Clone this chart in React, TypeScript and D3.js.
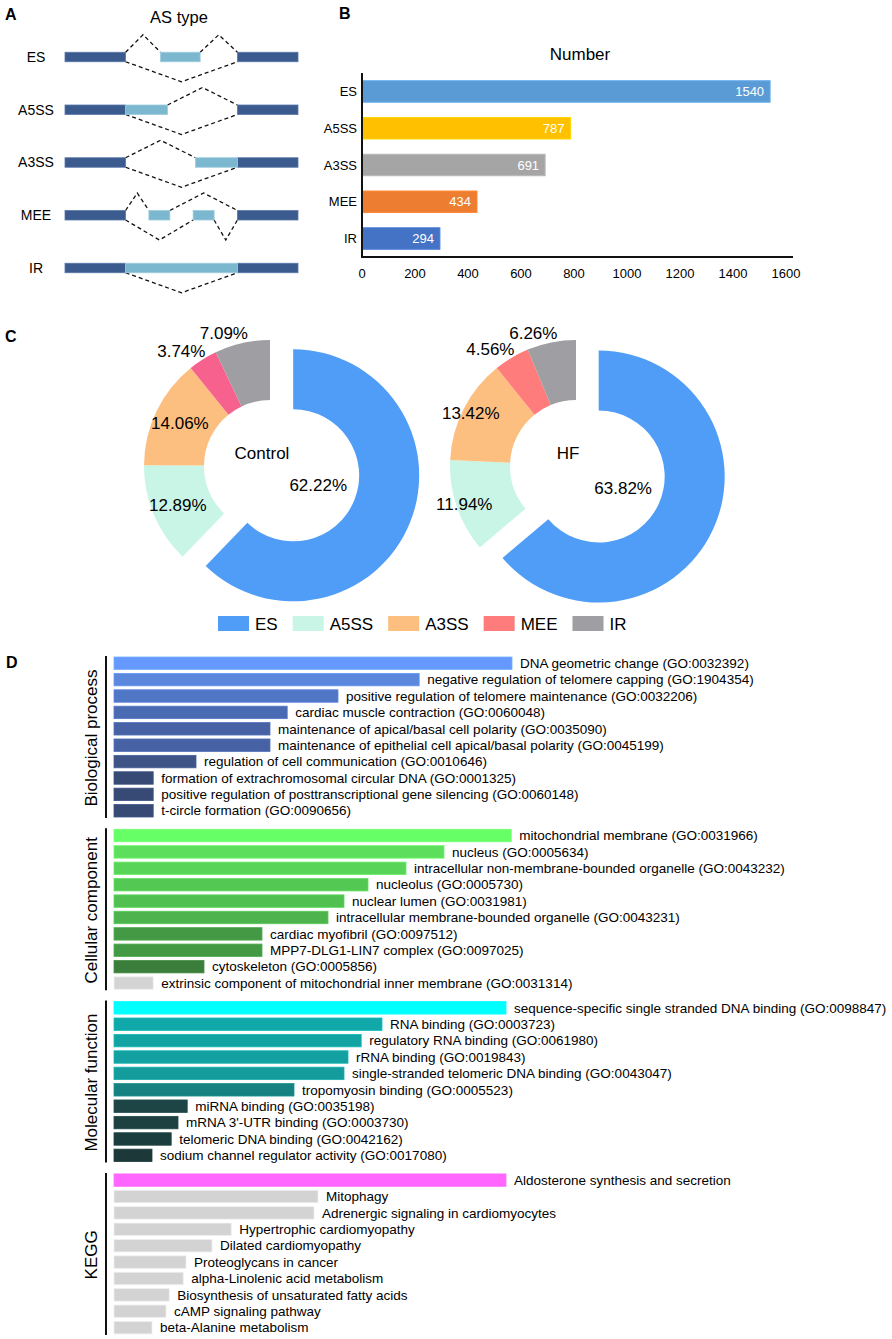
import React, { useEffect, useRef } from 'react';
import * as d3 from 'd3';

const FONT = '"Liberation Sans", Arial, Helvetica, sans-serif';

// A: splicing schematic, positions on a 0-100 gene axis
const asTypes = ['ES', 'A5SS', 'A3SS', 'MEE', 'IR'];
const constExons = [[0, 26], [74, 100]];
const altExons = [[[41, 58]], [[26, 44]], [[56, 74]], [[36, 45], [55, 64]], [[26, 74]]];
const upperJunctions = [[[26, 41], [58, 74]], [[44, 74]], [[26, 56]], [[26, 36], [45, 74]], []];
const lowerJunctions = [[[26, 74]], [[26, 74]], [[26, 74]], [[26, 55], [64, 74]], [[26, 74]]];

// B: event counts
const asCounts = [1540, 787, 691, 434, 294];
const asBarColors = ['#5b9bd5', '#ffc000', '#a5a5a5', '#ed7d31', '#4472c4'];
const countTicks = [0, 200, 400, 600, 800, 1000, 1200, 1400, 1600];

// C: proportions (%)
const groups = ['Control', 'HF'];
const controlPct = [62.22, 12.89, 14.06, 3.74, 7.09];
const hfPct = [63.82, 11.94, 13.42, 4.56, 6.26];
const donutColors = ['#4f9df6', '#c9f5e6', '#fdbf80', '#fe7c7c', '#9e9ea3'];
const controlMeeColor = '#f6618d';

// D: enrichment (relative score, 0-100)
const sectionNames = ['Biological process', 'Cellular component', 'Molecular function', 'KEGG'];
const bpTerms = [
  'DNA geometric change (GO:0032392)',
  'negative regulation of telomere capping (GO:1904354)',
  'positive regulation of telomere maintenance (GO:0032206)',
  'cardiac muscle contraction (GO:0060048)',
  'maintenance of apical/basal cell polarity (GO:0035090)',
  'maintenance of epithelial cell apical/basal polarity (GO:0045199)',
  'regulation of cell communication (GO:0010646)',
  'formation of extrachromosomal circular DNA (GO:0001325)',
  'positive regulation of posttranscriptional gene silencing (GO:0060148)',
  't-circle formation (GO:0090656)',
];
const bpScores = [99.5, 76.3, 56, 43.3, 39, 39, 20.5, 9.8, 9.8, 9.8];
const bpColors = ['#6699ff', '#5b87dd', '#5076c6', '#4a6ab2', '#4762a4', '#4762a4', '#3e5487', '#364a75', '#364a75', '#364a75'];

const ccTerms = [
  'mitochondrial membrane (GO:0031966)',
  'nucleus (GO:0005634)',
  'intracellular non-membrane-bounded organelle (GO:0043232)',
  'nucleolus (GO:0005730)',
  'nuclear lumen (GO:0031981)',
  'intracellular membrane-bounded organelle (GO:0043231)',
  'cardiac myofibril (GO:0097512)',
  'MPP7-DLG1-LIN7 complex (GO:0097025)',
  'cytoskeleton (GO:0005856)',
  'extrinsic component of mitochondrial inner membrane (GO:0031314)',
];
const ccScores = [99.3, 82.5, 73, 63.5, 57.5, 53.5, 37, 37, 22.5, 9.8];
const ccColors = ['#66ff66', '#5ddf5d', '#58d458', '#53c853', '#50c050', '#4db44d', '#449a44', '#449a44', '#3b7d3b', '#d4d4d4'];

const mfTerms = [
  'sequence-specific single stranded DNA binding (GO:0098847)',
  'RNA binding (GO:0003723)',
  'regulatory RNA binding (GO:0061980)',
  'rRNA binding (GO:0019843)',
  'single-stranded telomeric DNA binding (GO:0043047)',
  'tropomyosin binding (GO:0005523)',
  'miRNA binding (GO:0035198)',
  "mRNA 3'-UTR binding (GO:0003730)",
  'telomeric DNA binding (GO:0042162)',
  'sodium channel regulator activity (GO:0017080)',
];
const mfScores = [98, 67, 61.8, 58.5, 57.5, 45, 18.3, 16, 14.3, 9.5];
const mfColors = ['#00ffff', '#10a8a8', '#12a3a3', '#13a0a0', '#149b9b', '#178080', '#1d4545', '#1d4141', '#1c3d3d', '#1c3838'];

const keggTerms = [
  'Aldosterone synthesis and secretion',
  'Mitophagy',
  'Adrenergic signaling in cardiomyocytes',
  'Hypertrophic cardiomyopathy',
  'Dilated cardiomyopathy',
  'Proteoglycans in cancer',
  'alpha-Linolenic acid metabolism',
  'Biosynthesis of unsaturated fatty acids',
  'cAMP signaling pathway',
  'beta-Alanine metabolism',
];
const keggScores = [98, 51, 50, 29.3, 24.5, 18, 17.3, 13.8, 13, 9.5];
const keggColors = ['#ff66ff', '#d3d3d3', '#d3d3d3', '#d3d3d3', '#d3d3d3', '#d3d3d3', '#d3d3d3', '#d3d3d3', '#d3d3d3', '#d3d3d3'];

const App: React.FC = () => {
  const svgRef = useRef<SVGSVGElement>(null);

  useEffect(() => {
    if (!svgRef.current) return;
    const svg = d3.select(svgRef.current);
    svg.selectAll('*').remove();
    svg.attr('font-family', FONT);

    const panelLabel = (t: string, x: number, y: number) =>
      svg.append('text').attr('x', x).attr('y', y).attr('font-size', 16).attr('font-weight', 'bold').text(t);

    // ---------- A ----------
    panelLabel('A', 5, 20);
    svg.append('text').attr('x', 179).attr('y', 23).attr('text-anchor', 'middle')
      .attr('font-size', 16.5).text('AS type');

    const gx = d3.scaleLinear().domain([0, 100]).range([65, 298]);
    const ry = d3.scalePoint<string>().domain(asTypes).range([57, 268]);
    const eh = 9.5;
    const gA = svg.append('g');
    asTypes.forEach((t, i) => {
      const cy = ry(t)!;
      gA.append('text').attr('x', 36).attr('y', cy).attr('dy', '0.35em')
        .attr('text-anchor', 'middle').attr('font-size', 14).text(t);
      const drawJ = (pairs: number[][], dir: number, h: number) => {
        pairs.forEach(([a, b]) => {
          const y = cy + dir * eh / 2;
          gA.append('path')
            .attr('d', `M${gx(a)},${y}L${(gx(a) + gx(b)) / 2},${y + dir * h}L${gx(b)},${y}`)
            .attr('fill', 'none').attr('stroke', '#111').attr('stroke-width', 1.3)
            .attr('stroke-dasharray', '4,3');
        });
      };
      drawJ(upperJunctions[i], -1, 17.5);
      drawJ(lowerJunctions[i], 1, 20);
      constExons.forEach(([a, b]) => {
        gA.append('rect').attr('x', gx(a)).attr('y', cy - eh / 2).attr('width', gx(b) - gx(a))
          .attr('height', eh).attr('fill', '#3b5a8d').attr('stroke', '#5a78aa').attr('stroke-width', 0.8);
      });
      altExons[i].forEach(([a, b]) => {
        gA.append('rect').attr('x', gx(a)).attr('y', cy - eh / 2).attr('width', gx(b) - gx(a))
          .attr('height', eh).attr('fill', '#7bb8d0').attr('stroke', '#9ccbdc').attr('stroke-width', 0.8);
      });
    });

    // ---------- B ----------
    panelLabel('B', 339, 19);
    const bx = d3.scaleLinear().domain([0, 1600]).range([362, 786]);
    const by = d3.scaleBand<string>().domain(asTypes).range([73, 257]).paddingInner(0.415).paddingOuter(0.21);
    svg.append('text').attr('x', 580).attr('y', 60).attr('text-anchor', 'middle').attr('font-size', 17).text('Number');
    const gB = svg.append('g');
    asTypes.forEach((t, i) => {
      const y = by(t)!;
      gB.append('rect').attr('x', bx(0)).attr('y', y).attr('width', bx(asCounts[i]) - bx(0))
        .attr('height', by.bandwidth()).attr('fill', asBarColors[i])
        .attr('stroke', d3.color(asBarColors[i])!.brighter(0.3).toString()).attr('stroke-width', 1);
      gB.append('text').attr('x', bx(asCounts[i]) - 6).attr('y', y + by.bandwidth() / 2).attr('dy', '0.35em')
        .attr('text-anchor', 'end').attr('fill', 'white').attr('font-size', 13).text(asCounts[i]);
      gB.append('text').attr('x', 357).attr('y', y + by.bandwidth() / 2).attr('dy', '0.35em')
        .attr('text-anchor', 'end').attr('font-size', 13).text(t);
    });
    gB.append('line').attr('x1', 362).attr('x2', 362).attr('y1', 73).attr('y2', 258).attr('stroke', '#111').attr('stroke-width', 2);
    gB.append('line').attr('x1', 361).attr('x2', 793).attr('y1', 257).attr('y2', 257).attr('stroke', '#111').attr('stroke-width', 2);
    countTicks.forEach((v) => {
      gB.append('text').attr('x', bx(v)).attr('y', 278).attr('text-anchor', 'middle').attr('font-size', 13).text(v);
    });

    // ---------- C ----------
    panelLabel('C', 5, 342);
    const R = 126, r0 = 66, explode = 25;
    const centers = [[270, 466], [576, 466]];
    const insideR = [100, 118];
    const pie = d3.pie<number>().sort(null).value((d) => d);
    const arc = d3.arc<d3.PieArcDatum<number>>().innerRadius(r0).outerRadius(R);
    [controlPct, hfPct].forEach((pct, gi) => {
      const [cx, cy] = centers[gi];
      const g = svg.append('g').attr('transform', `translate(${cx},${cy})`);
      const arcs = pie(pct);
      arcs.forEach((a, i) => {
        const mid = (a.startAngle + a.endAngle) / 2;
        const dx = Math.sin(mid), dy = -Math.cos(mid);
        const off = i === 0 ? explode : 0;
        const col = gi === 0 && i === 3 ? controlMeeColor : donutColors[i];
        g.append('path').attr('d', arc(a)!).attr('fill', col)
          .attr('transform', `translate(${dx * off},${dy * off})`);
        let lx: number, ly: number, anchor = 'middle';
        if (i === 0) {
          lx = dx * 52; ly = dy * 52;
        } else if (pct[i] > 8) {
          lx = dx * insideR[gi]; ly = dy * insideR[gi];
        } else {
          lx = dx * (R + 10) + 8; ly = dy * (R + 10); anchor = 'end';
        }
        g.append('text').attr('x', lx).attr('y', ly).attr('dy', '0.35em').attr('text-anchor', anchor)
          .attr('font-size', 17).text(`${pct[i].toFixed(2)}%`);
      });
      g.append('text').attr('x', -8).attr('y', -13).attr('dy', '0.35em').attr('text-anchor', 'middle')
        .attr('font-size', 17).text(groups[gi]);
    });
    // legend
    const leg = svg.append('g');
    let lx = 218;
    asTypes.forEach((t, i) => {
      leg.append('rect').attr('x', lx).attr('y', 616).attr('width', 31).attr('height', 15)
        .attr('fill', donutColors[i]);
      const txt = leg.append('text').attr('x', lx + 37).attr('y', 624).attr('dy', '0.35em')
        .attr('font-size', 17).text(t);
      const w = (txt.node() as SVGTextElement).getComputedTextLength();
      lx += 37 + w + 15;
    });

    // ---------- D ----------
    panelLabel('D', 6, 668);
    const dx = d3.scaleLinear().domain([0, 100]).range([114, 514]);
    const sections = [
      { terms: bpTerms, scores: bpScores, colors: bpColors },
      { terms: ccTerms, scores: ccScores, colors: ccColors },
      { terms: mfTerms, scores: mfScores, colors: mfColors },
      { terms: keggTerms, scores: keggScores, colors: keggColors },
    ];
    sections.forEach((s, si) => {
      const top = 657 + si * 172.3;
      const y = d3.scaleBand<string>().domain(s.terms).range([top, top + 160]).paddingInner(0.24);
      const g = svg.append('g');
      s.terms.forEach((t, i) => {
        const yy = y(t)!;
        g.append('rect').attr('x', dx(0)).attr('y', yy).attr('width', dx(s.scores[i]) - dx(0))
          .attr('height', y.bandwidth()).attr('fill', s.colors[i])
          .attr('stroke', d3.color(s.colors[i])!.brighter(0.35).toString()).attr('stroke-width', 0.8);
        g.append('text').attr('x', dx(s.scores[i]) + 8).attr('y', yy + y.bandwidth() / 2).attr('dy', '0.35em')
          .attr('font-size', 13.5).text(t);
      });
      g.append('line').attr('x1', 106).attr('x2', 106).attr('y1', top - 1).attr('y2', top + 161)
        .attr('stroke', '#111').attr('stroke-width', 2);
      g.append('text').attr('transform', `translate(97,${top + 81}) rotate(-90)`)
        .attr('text-anchor', 'middle').attr('font-size', 17).text(sectionNames[si]);
    });
  }, []);

  return (
    <svg ref={svgRef} width={892} height={1339}
      style={{ position: 'absolute', left: 0, top: 0, background: 'white' }} />
  );
};

export default App;
